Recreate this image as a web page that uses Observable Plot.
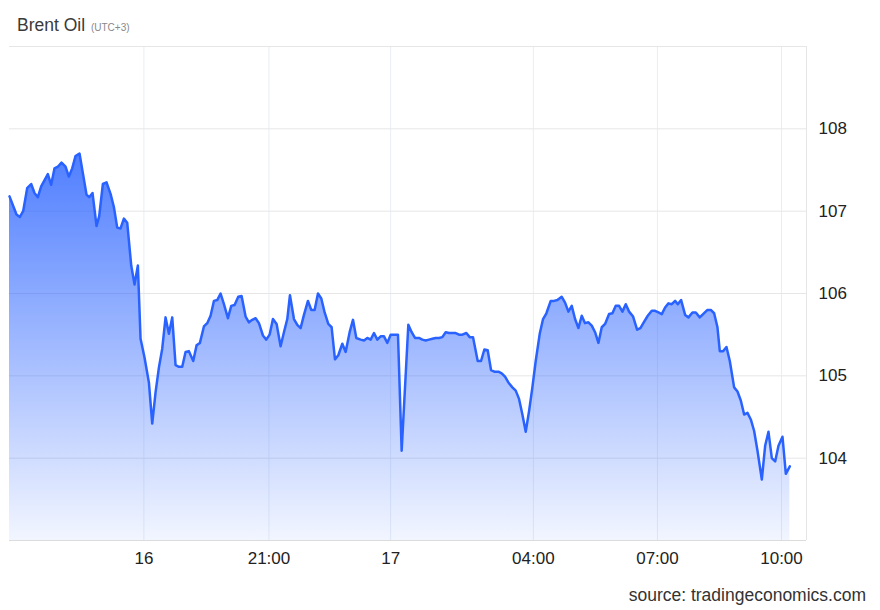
<!DOCTYPE html>
<html>
<head>
<meta charset="utf-8">
<script src="https://cdn.jsdelivr.net/npm/d3@7"></script>
<script src="https://cdn.jsdelivr.net/npm/@observablehq/plot@0.6"></script>
<style>
  body { margin: 0; background: #fff; font-family: "Liberation Sans", Arial, sans-serif; }
  #wrap { width: 880px; height: 610px; position: relative; overflow: hidden; }
  #title { height: 40px; position: relative; }
  #title .t { position: absolute; left: 17px; top: 15px; font-size: 17.5px; color: #3a3a3a; white-space: nowrap; }
  #title .t small { font-size: 10px; color: #888; margin-left: 1px; }
  #cap { height: 40px; position: relative; }
  #cap span { position: absolute; right: 14px; top: 15px; font-size: 17.5px; color: #333; }
  svg { display: block; }
</style>
</head>
<body>
<div id="wrap">
  <div id="title"><div class="t">Brent Oil <small>(UTC+3)</small></div></div>
  <div id="chart"></div>
  <div id="cap"><span>source: tradingeconomics.com</span></div>
</div>
<script>
// Session position index (trading bars) and Brent price
const barIndex = [
  0, 2.1, 3.1, 4.1, 5.3, 6.5, 7.5, 8.5, 9.5, 11.5, 12.5, 13.5, 14.5, 15.6, 16.8, 17.8, 18.8, 19.8, 21.0, 22.0,
  23.1, 23.9, 24.9, 26.1, 26.9, 28.0, 29.1, 30.3, 31.3, 32.3, 33.3, 34.3, 35.3, 36.5, 37.5, 38.5, 39.3, 40.5, 41.8, 42.8,
  43.8, 44.8, 45.8, 46.8, 47.8, 48.8, 49.8, 50.8, 51.8, 52.8, 53.8, 55.1, 56.1, 57.1, 58.3, 59.3, 60.3, 61.3, 62.3, 63.3,
  64.3, 65.5, 66.5, 67.5, 68.6, 69.6, 70.8, 71.8, 72.8, 73.8, 74.8, 76.0, 77.0, 78.0, 79.0, 80.1, 81.3, 82.3, 83.3, 84.1,
  85.3, 86.3, 87.3, 88.3, 89.5, 90.5, 91.5, 92.5, 93.5, 94.5, 95.6, 96.6, 97.6, 98.6, 99.8, 100.8, 102.0, 103.0, 104.0, 105.3,
  106.3, 107.3, 108.3, 109.3, 110.3, 111.3, 112.3, 113.3, 114.3, 115.3, 116.5, 117.6, 119.6, 120.6, 121.6, 122.8, 123.8, 124.8, 125.8, 126.8,
  127.8, 128.8, 129.8, 130.8, 131.8, 132.8, 133.8, 134.8, 135.8, 137.0, 138.0, 139.0, 140.4, 141.4, 142.4, 143.4, 144.4, 145.4, 146.6, 147.6,
  148.6, 149.6, 150.8, 151.8, 152.8, 153.8, 154.8, 155.8, 156.8, 157.8, 159.0, 160.0, 161.0, 162.3, 163.3, 164.3, 165.6, 166.6, 167.6, 168.6,
  169.6, 170.6, 171.6, 172.6, 173.6, 174.6, 175.6, 176.6, 177.6, 178.6, 179.8, 180.8, 181.8, 182.8, 183.8, 184.8, 185.8, 187.0, 188.2, 189.2,
  190.2, 191.4, 192.6, 193.6, 194.6, 195.6, 196.6, 197.6, 198.6, 199.6, 200.4, 201.4, 202.6, 203.6, 204.8, 205.8, 207.0, 208.0, 209.3, 210.3,
  211.3, 212.3, 213.0, 214.0, 215.0, 216.0, 217.3, 218.3, 219.3, 220.3, 221.3, 222.3, 223.3, 224.3, 225.6, 226.6, 227.6, 228.6, 229.6, 230.6,
  231.8, 232.8, 234.0
];
const price = [
  107.18, 106.96, 106.93, 107.00, 107.28, 107.33, 107.22, 107.17, 107.30, 107.45, 107.32, 107.52, 107.54, 107.59, 107.54, 107.42, 107.52, 107.67, 107.70, 107.46,
  107.20, 107.17, 107.22, 106.82, 106.94, 107.33, 107.35, 107.21, 107.05, 106.80, 106.79, 106.91, 106.86, 106.34, 106.11, 106.34, 105.45, 105.22, 104.92, 104.42,
  104.80, 105.10, 105.33, 105.71, 105.51, 105.71, 105.13, 105.11, 105.11, 105.29, 105.30, 105.18, 105.37, 105.40, 105.60, 105.64, 105.73, 105.91, 105.92, 106.00,
  105.87, 105.70, 105.85, 105.86, 105.96, 105.97, 105.72, 105.65, 105.68, 105.70, 105.64, 105.49, 105.44, 105.50, 105.69, 105.63, 105.36, 105.53, 105.69, 105.98,
  105.69, 105.62, 105.58, 105.74, 105.91, 105.80, 105.80, 106.00, 105.94, 105.77, 105.63, 105.59, 105.20, 105.25, 105.39, 105.29, 105.53, 105.68, 105.46, 105.44,
  105.43, 105.46, 105.44, 105.52, 105.44, 105.48, 105.48, 105.40, 105.50, 105.50, 105.50, 104.09, 105.62, 105.53, 105.46, 105.46, 105.44, 105.43, 105.44, 105.45,
  105.46, 105.46, 105.47, 105.53, 105.52, 105.52, 105.52, 105.50, 105.50, 105.52, 105.47, 105.47, 105.18, 105.18, 105.32, 105.31, 105.07, 105.05, 105.05, 105.03,
  104.99, 104.92, 104.86, 104.82, 104.72, 104.53, 104.32, 104.57, 104.86, 105.18, 105.51, 105.69, 105.76, 105.91, 105.91, 105.92, 105.96, 105.89, 105.78, 105.85,
  105.69, 105.58, 105.73, 105.64, 105.65, 105.61, 105.53, 105.40, 105.59, 105.63, 105.75, 105.76, 105.85, 105.85, 105.78, 105.87, 105.78, 105.72, 105.56, 105.58,
  105.65, 105.73, 105.79, 105.79, 105.77, 105.75, 105.83, 105.88, 105.87, 105.91, 105.87, 105.92, 105.74, 105.71, 105.77, 105.77, 105.71, 105.75, 105.80, 105.80,
  105.76, 105.59, 105.30, 105.30, 105.35, 105.18, 104.86, 104.81, 104.70, 104.53, 104.55, 104.47, 104.33, 104.09, 103.74, 104.15, 104.32, 104.00, 103.96, 104.15,
  104.26, 103.81, 103.90
];
const xTickIndex = [40.3, 77.8, 114.3, 157.1, 194.3, 231.5];
const xTickLabels = ["16", "21:00", "17", "04:00", "07:00", "10:00"];
const yTicks = [104, 105, 106, 107, 108];
const yDomain = [103, 109];
const xDomain = [0, 239];

const data = barIndex.map((x, i) => ({x, v: price[i]}));
const labelOf = new Map(xTickIndex.map((t, i) => [t, xTickLabels[i]]));
const LINE = "#2962ff";

const gradientDefs = () => {
  const defs = d3.create("svg:defs");
  const g = defs.append("linearGradient").attr("id", "areaGrad")
    .attr("x1", 0).attr("y1", 0).attr("x2", 0).attr("y2", 1);
  g.append("stop").attr("offset", "0%").attr("stop-color", LINE).attr("stop-opacity", 0.82);
  g.append("stop").attr("offset", "100%").attr("stop-color", LINE).attr("stop-opacity", 0.06);
  return defs.node();
};

const chart = Plot.plot({
  width: 880,
  height: 530,
  marginTop: 6,
  marginBottom: 30,
  marginLeft: 9,
  marginRight: 74,
  style: {fontFamily: "'Liberation Sans', Arial, sans-serif", fontSize: "17px", color: "#222", background: "#fff"},
  x: {type: "linear", domain: xDomain, ticks: xTickIndex, tickFormat: d => labelOf.get(d) ?? "", tickSize: 0, tickPadding: 11, label: null},
  y: {domain: yDomain, ticks: yTicks, tickFormat: d => String(d), tickSize: 0, tickPadding: 12, label: null, axis: "right"},
  marks: [
    gradientDefs,
    Plot.gridX(xTickIndex, {stroke: "#e8eef6", strokeOpacity: 1, strokeWidth: 1}),
    Plot.gridY(yTicks, {stroke: "#e6e6e6", strokeOpacity: 1, strokeWidth: 1}),
    Plot.ruleY([yDomain[1]], {stroke: "#e6e6e6", strokeWidth: 1}),
    Plot.ruleX([xDomain[1]], {stroke: "#e6e6e6", strokeWidth: 1}),
    Plot.areaY(data, {x: "x", y1: yDomain[0], y2: "v", fill: "url(#areaGrad)"}),
    Plot.lineY(data, {x: "x", y: "v", stroke: LINE, strokeWidth: 2.5, strokeLinejoin: "round"}),
    Plot.ruleY([yDomain[0]], {stroke: "#dcdcdc", strokeWidth: 1})
  ]
});
document.getElementById("chart").appendChild(chart);
</script>
</body>
</html>
